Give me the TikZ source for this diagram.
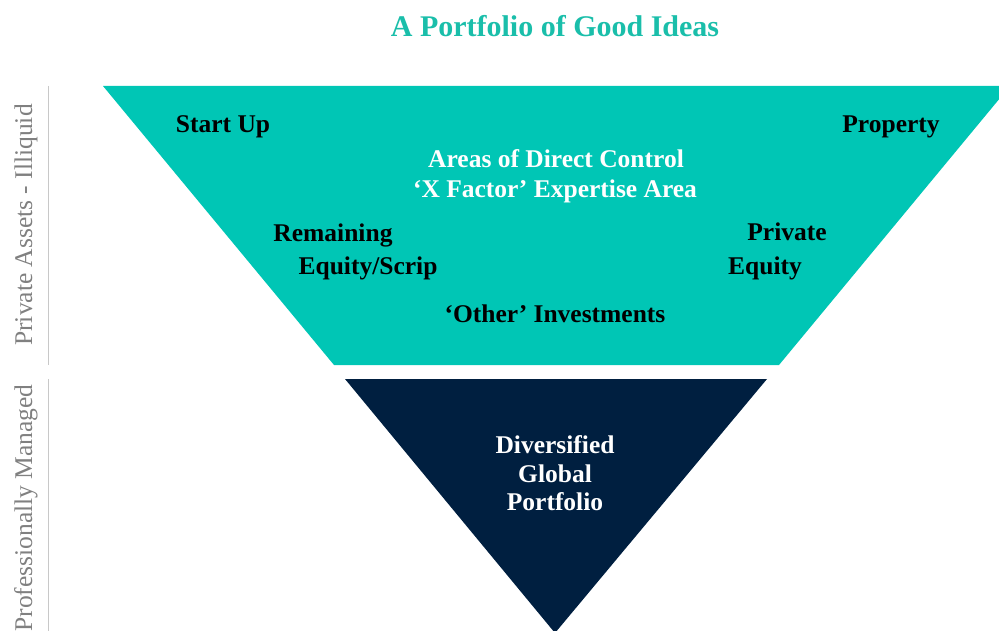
\documentclass[tikz,border=0pt]{standalone}
\usepackage{fontspec}
\setmainfont{Liberation Serif}
\definecolor{tealfill}{RGB}{0,198,181}
\definecolor{titleteal}{RGB}{26,190,170}
\definecolor{navy}{RGB}{0,31,64}
\definecolor{sidegray}{RGB}{128,128,128}
\definecolor{rulegray}{RGB}{200,200,200}
\begin{document}
\begin{tikzpicture}[x=1pt,y=-1pt,
  lbl/.style={font=\fontsize{25.5}{30}\selectfont\bfseries, text=black, inner sep=0pt, anchor=base},
  wlbl/.style={lbl, text=white},
  side/.style={font=\fontsize{25.5}{30}\selectfont, text=sidegray, rotate=90, inner sep=0pt, anchor=base},
  sidebar/.style={draw=rulegray, line width=1pt}]
\useasboundingbox (0,0) rectangle (999,631);
\clip (0,0) rectangle (999,631);

% upper band: illiquid private assets
\fill[tealfill] (103,86) -- (1010,86) -- (779,365) -- (334,365) -- cycle;
% lower band: managed portfolio
\fill[navy] (345,379) -- (767,379) -- (555,633) -- cycle;

% title
\node[font=\fontsize{30}{34}\selectfont\bfseries, text=titleteal, inner sep=0pt, anchor=base] (title) at (555,37) {A Portfolio of Good Ideas};

% labels inside the upper band
\node[lbl] (startup) at (223,133) {Start Up};
\node[lbl] (property) at (891,133) {Property};
\node[wlbl] (areas) at (556,168) {Areas of Direct Control};
\node[wlbl] (xfactor) at (555,198) {‘X Factor’ Expertise Area};
\node[lbl] (remaining) at (333,242) {Remaining};
\node[lbl] (scrip) at (368,274) {Equity/Scrip};
\node[lbl] (private) at (787,241) {Private};
\node[lbl] (equity) at (765,274) {Equity};
\node[lbl] (other) at (555,322) {‘Other’ Investments};

% labels inside the lower band
\node[wlbl] (divers) at (555,453) {Diversified};
\node[wlbl] (global) at (555,482) {Global};
\node[wlbl] (portf) at (555,510) {Portfolio};

% side captions and their rules
\coordinate (r1top) at (48,86);
\coordinate (r1bot) at (48,365);
\coordinate (r2top) at (48,379);
\coordinate (r2bot) at (48,631);
\draw[sidebar] (r1top) -- (r1bot);
\draw[sidebar] (r2top) -- (r2bot);
\node[side] (illiquid) at (32,225) {Private Assets - Illiquid};
\node[side] (managed) at (32,508) {Professionally Managed};
\end{tikzpicture}
\end{document}
